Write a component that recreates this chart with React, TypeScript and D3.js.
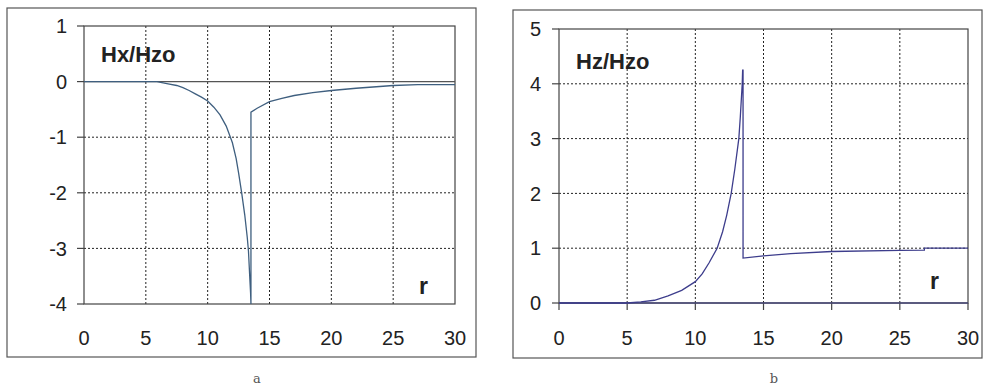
import React from "react";
import * as d3 from "d3";

// ---- Data ----
const xTicks = [0, 5, 10, 15, 20, 25, 30];

const hxTicks = [1, 0, -1, -2, -3, -4];
const hxR = [0, 5, 5.9, 6.8, 7.5, 8, 8.5, 9, 9.5, 10, 10.5, 11, 11.5, 11.8, 12, 12.3, 12.5, 12.75, 13, 13.2, 13.3, 13.4, 13.47, 13.5, 13.5, 14, 15, 16, 17, 18.5, 20, 22, 25, 27, 30];
const hxV = [0, 0, 0, -0.04, -0.07, -0.11, -0.16, -0.22, -0.28, -0.35, -0.46, -0.6, -0.8, -0.98, -1.1, -1.38, -1.64, -2.0, -2.4, -2.8, -3.05, -3.5, -3.8, -4.0, -0.55, -0.48, -0.36, -0.3, -0.25, -0.2, -0.16, -0.12, -0.07, -0.055, -0.055];

const hzTicks = [5, 4, 3, 2, 1, 0];
const hzR = [0, 5, 6, 7, 8, 9, 10, 10.5, 11, 11.6, 12, 12.3, 12.63, 12.9, 13.19, 13.3, 13.44, 13.47, 13.5, 13.5, 15, 17, 20, 25, 26.8, 26.8, 30];
const hzV = [0, 0, 0.02, 0.05, 0.13, 0.23, 0.39, 0.53, 0.73, 1.0, 1.3, 1.6, 2.0, 2.45, 3.0, 3.4, 4.0, 4.25, 4.25, 0.82, 0.86, 0.9, 0.94, 0.96, 0.965, 1.0, 1.0];

type PanelProps = {
  frame: [number, number, number, number];
  plot: [number, number, number, number]; // x0, x1, yTop, yBottom
  yDomain: [number, number]; // top, bottom
  yTicks: number[];
  rs: number[];
  vs: number[];
  lineColor: string;
  axisColor: string;
  zeroAt: number;
  title: string;
  titlePos: [number, number];
  rPos: [number, number];
  caption: string;
  captionX: number;
  xTickMarks: boolean;
  yLabelX: number;
};

function Panel(p: PanelProps) {
  const [x0, x1, yT, yB] = p.plot;
  const x = d3.scaleLinear().domain([0, 30]).range([x0, x1]);
  const y = d3.scaleLinear().domain(p.yDomain).range([yT, yB]);
  const pts = p.rs.map((r, i) => [r, p.vs[i]] as [number, number]);
  const line = d3
    .line<[number, number]>()
    .x((d) => x(d[0]))
    .y((d) => y(d[1]));
  const font = "'Liberation Sans', Arial, sans-serif";
  const yZero = y(p.zeroAt);
  return (
    <g>
      <rect x={p.frame[0]} y={p.frame[1]} width={p.frame[2]} height={p.frame[3]} fill="#fff" stroke="#555" strokeWidth={1.2} />
      {/* grid */}
      {xTicks.slice(1, -1).map((t) => (
        <line key={"vx" + t} x1={x(t)} x2={x(t)} y1={yT} y2={yB} stroke="#222" strokeWidth={1} strokeDasharray="2,2" />
      ))}
      {p.yTicks.filter((t) => t !== p.zeroAt && t !== p.yDomain[0] && t !== p.yDomain[1]).map((t) => (
        <line key={"hy" + t} x1={x0} x2={x1} y1={y(t)} y2={y(t)} stroke="#222" strokeWidth={1} strokeDasharray="2,2" />
      ))}
      {/* plot border */}
      <rect x={x0} y={yT} width={x1 - x0} height={yB - yT} fill="none" stroke="#444" strokeWidth={1.2} />
      {/* y ticks */}
      {p.yTicks.map((t) => (
        <line key={"yt" + t} x1={x0 - 7} x2={x0} y1={y(t)} y2={y(t)} stroke="#444" strokeWidth={1.2} />
      ))}
      {/* x tick marks */}
      {p.xTickMarks &&
        xTicks.map((t) => (
          <line key={"xt" + t} x1={x(t)} x2={x(t)} y1={yZero} y2={yZero + 7} stroke="#444" strokeWidth={1.2} />
        ))}
      {/* zero axis */}
      <line x1={x0} x2={x1} y1={yZero} y2={yZero} stroke={p.axisColor} strokeWidth={1.3} />
      {/* data */}
      <path d={line(pts) || ""} fill="none" stroke={p.lineColor} strokeWidth={1.3} />
      {/* labels */}
      {p.yTicks.map((t) => (
        <text key={"yl" + t} x={p.yLabelX} y={y(t)} dy="0.36em" textAnchor="end" fontFamily={font} fontSize={20} fill="#222">
          {t}
        </text>
      ))}
      {xTicks.map((t) => (
        <text key={"xl" + t} x={x(t)} y={345} textAnchor="middle" fontFamily={font} fontSize={20} fill="#222">
          {t}
        </text>
      ))}
      <text x={p.titlePos[0]} y={p.titlePos[1]} fontFamily={font} fontSize={22} fontWeight="bold" fill="#222">
        {p.title}
      </text>
      <text x={p.rPos[0]} y={p.rPos[1]} fontFamily={font} fontSize={23} fontWeight="bold" fill="#222">
        r
      </text>
      <text x={p.captionX} y={383} textAnchor="middle" fontFamily="'DejaVu Serif', 'Liberation Serif', serif" fontSize={13} fill="#555">
        {p.caption}
      </text>
    </g>
  );
}

export default function App() {
  return (
    <svg width={984} height={386} style={{ position: "absolute", left: 0, top: 0, background: "#fff" }}>
      <Panel
        frame={[7, 8, 469, 349]}
        plot={[84, 455, 26, 304]}
        yDomain={[1, -4]}
        yTicks={hxTicks}
        rs={hxR}
        vs={hxV}
        lineColor="#3f5f7f"
        axisColor="#555"
        zeroAt={0}
        title="Hx/Hzo"
        titlePos={[101, 62]}
        rPos={[419, 294]}
        caption="a"
        captionX={257}
        xTickMarks={false}
        yLabelX={67}
      />
      <Panel
        frame={[513, 10, 469, 348]}
        plot={[559, 968, 29, 303]}
        yDomain={[5, 0]}
        yTicks={hzTicks}
        rs={hzR}
        vs={hzV}
        lineColor="#3d3d8c"
        axisColor="#4a4a7a"
        zeroAt={0}
        title="Hz/Hzo"
        titlePos={[576, 69]}
        rPos={[930, 289]}
        caption="b"
        captionX={774}
        xTickMarks={true}
        yLabelX={541}
      />
    </svg>
  );
}
